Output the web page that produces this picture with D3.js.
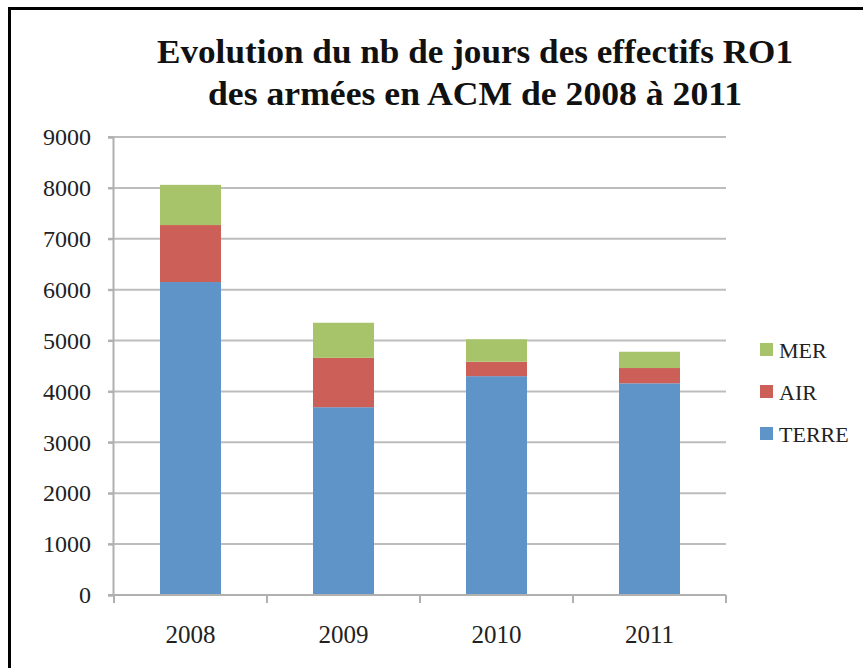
<!DOCTYPE html>
<html>
<head>
<meta charset="utf-8">
<script src="https://cdn.jsdelivr.net/npm/d3@7"></script>
<style>
  body { margin: 0; background: #fff; }
  svg { display: block; font-family: "Liberation Serif", "DejaVu Serif", serif; }
  svg text { font-family: "Liberation Serif", "DejaVu Serif", serif; }
</style>
</head>
<body>
<div id="chart"></div>
<script>
// data
const years = ["2008", "2009", "2010", "2011"];
const terre = [6150, 3690, 4300, 4160];
const air = [1120, 970, 285, 300];
const mer = [790, 690, 440, 320];
const yTicks = [0, 1000, 2000, 3000, 4000, 5000, 6000, 7000, 8000, 9000];
const seriesNames = ["TERRE", "AIR", "MER"];
const colors = { TERRE: "#5f94c9", AIR: "#cc6058", MER: "#a8c46a" };

const W = 863, H = 668;
const svg = d3.select("#chart").append("svg")
    .attr("width", W)
    .attr("height", H);

// outer frame (cut off at the right and bottom)
svg.append("rect")
    .attr("x", 9.5).attr("y", 8.5)
    .attr("width", 900).attr("height", 700)
    .attr("fill", "none")
    .attr("stroke", "#000")
    .attr("stroke-width", 3);

// title
const title = svg.append("g").attr("font-weight", "bold").attr("fill", "#111");
title.append("text")
    .attr("x", 475).attr("y", 63)
    .attr("text-anchor", "middle")
    .attr("font-size", 34)
    .attr("textLength", 636)
    .attr("lengthAdjust", "spacingAndGlyphs")
    .text("Evolution du nb de jours des effectifs RO1");
title.append("text")
    .attr("x", 475).attr("y", 105)
    .attr("text-anchor", "middle")
    .attr("font-size", 34)
    .attr("textLength", 534)
    .attr("lengthAdjust", "spacingAndGlyphs")
    .text("des armées en ACM de 2008 à 2011");

// scales
const x = d3.scaleBand().domain(years).range([114, 726]).padding(0);
const y = d3.scaleLinear().domain([0, 9000]).range([595, 137]);
const barW = 61;

// gridlines
svg.append("g")
    .selectAll("line")
    .data(yTicks.filter(d => d > 0))
    .join("line")
    .attr("x1", 108).attr("x2", 726)
    .attr("y1", d => y(d)).attr("y2", d => y(d))
    .attr("stroke", "#bdbdbd")
    .attr("stroke-width", 2);

// stacked bars
const rows = years.map((yr, i) => ({ year: yr, TERRE: terre[i], AIR: air[i], MER: mer[i] }));
const stack = d3.stack().keys(seriesNames)(rows);

svg.append("g")
    .selectAll("g")
    .data(stack)
    .join("g")
    .attr("fill", d => colors[d.key])
    .selectAll("rect")
    .data(d => d)
    .join("rect")
    .attr("x", d => x(d.data.year) + x.bandwidth() / 2 - barW / 2)
    .attr("y", d => y(d[1]))
    .attr("width", barW)
    .attr("height", d => y(d[0]) - y(d[1]));

// y axis
const yAxis = d3.axisLeft(y).tickValues(yTicks).tickFormat(d3.format("d")).tickSize(5).tickPadding(17);
const gy = svg.append("g")
    .attr("transform", "translate(113,0)")
    .call(yAxis);
gy.attr("font-family", null).attr("font-size", null);
gy.select(".domain").attr("stroke", "#b0b0b0").attr("stroke-width", 2);
gy.selectAll(".tick line").attr("stroke", "#b0b0b0").attr("stroke-width", 2);
gy.selectAll(".tick text")
    .style("font-family", "'Liberation Serif', 'DejaVu Serif', serif")
    .attr("font-size", 24)
    .attr("fill", "#222");

// x axis
const xTickPos = years.map(yr => x(yr)).concat([x.range()[1]]);
const gx = svg.append("g")
    .attr("transform", "translate(0,595)");
gx.append("line")
    .attr("x1", 108).attr("x2", 726)
    .attr("stroke", "#b0b0b0").attr("stroke-width", 2);
gx.selectAll(".xt")
    .data(xTickPos)
    .join("line")
    .attr("class", "xt")
    .attr("x1", d => d).attr("x2", d => d)
    .attr("y1", 0).attr("y2", 8)
    .attr("stroke", "#b0b0b0").attr("stroke-width", 2);
gx.selectAll(".xl")
    .data(years)
    .join("text")
    .attr("class", "xl")
    .attr("x", d => x(d) + x.bandwidth() / 2)
    .attr("y", 48)
    .attr("text-anchor", "middle")
    .attr("font-size", 25)
    .attr("fill", "#222")
    .text(d => d);

// legend (MER on top)
const legend = svg.append("g")
    .selectAll("g")
    .data(seriesNames.slice().reverse())
    .join("g")
    .attr("transform", (d, i) => `translate(760,${343 + i * 42})`);
legend.append("rect")
    .attr("width", 13).attr("height", 13)
    .attr("fill", d => colors[d]);
legend.append("text")
    .attr("x", 19).attr("y", 15)
    .attr("font-size", 22)
    .attr("fill", "#222")
    .text(d => d);
</script>
</body>
</html>
